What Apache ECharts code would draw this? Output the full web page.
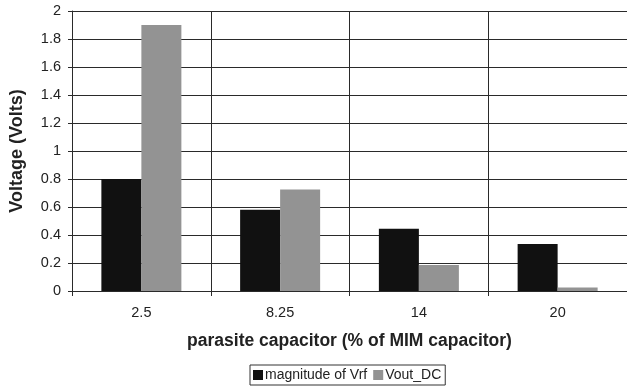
<!DOCTYPE html>
<html>
<head>
<meta charset="utf-8">
<script src="https://cdn.jsdelivr.net/npm/echarts@6/dist/echarts.min.js"></script>
<style>
  html, body { margin: 0; padding: 0; background: #fff; }
  #chart { width: 627px; height: 387px; }
</style>
</head>
<body>
<div id="chart"></div>
<script>
// 横轴类别：寄生电容占 MIM 电容百分比
let categories = ['2.5', '8.25', '14', '20'];
// 两组柱子
let vrfValues = [0.8, 0.58, 0.445, 0.335];
let voutValues = [1.9, 0.725, 0.185, 0.025];
let seriesNames = ['magnitude of Vrf', 'Vout_DC'];

let lineColor = '#2a2a2a';
let font = 'Liberation Sans, Arial, sans-serif';

let option = {
  animation: false,
  backgroundColor: '#fff',
  grid: {
    left: 68,
    right: -1,
    top: 11,
    bottom: 96,
    containLabel: false
  },
  legend: {
    data: seriesNames,
    bottom: 2,
    left: 250,
    icon: 'rect',
    itemWidth: 10,
    itemHeight: 10,
    itemGap: 6,
    padding: [3, 4, 3, 3],
    borderColor: '#333',
    borderWidth: 1,
    textStyle: { color: '#222', fontSize: 14, fontFamily: font, padding: [0, 0, 0, -3] }
  },
  xAxis: {
    type: 'category',
    data: categories,
    name: 'parasite capacitor (% of MIM capacitor)',
    nameLocation: 'middle',
    nameGap: 41,
    nameTextStyle: { color: '#222', fontSize: 17.5, fontWeight: 'bold', fontFamily: font },
    axisLine: { lineStyle: { color: lineColor, width: 1 } },
    axisTick: { show: true, length: 5, lineStyle: { color: lineColor } },
    axisLabel: { color: '#222', fontSize: 14.5, margin: 14, fontFamily: font },
    splitLine: { show: true, lineStyle: { color: lineColor, width: 1 } }
  },
  yAxis: {
    type: 'value',
    min: 0,
    max: 2,
    interval: 0.2,
    name: 'Voltage (Volts)',
    nameLocation: 'middle',
    nameGap: 46,
    nameTextStyle: { color: '#222', fontSize: 18, fontWeight: 'bold', fontFamily: font },
    axisLine: { show: true, lineStyle: { color: lineColor, width: 1 } },
    axisTick: { show: true, length: 4, lineStyle: { color: lineColor } },
    axisLabel: { color: '#222', fontSize: 14.5, margin: 11, fontFamily: font },
    splitLine: { show: true, lineStyle: { color: lineColor, width: 1 } }
  },
  series: [
    {
      name: seriesNames[0],
      type: 'bar',
      data: vrfValues,
      barWidth: 40,
      barGap: '0%',
      itemStyle: { color: '#111' }
    },
    {
      name: seriesNames[1],
      type: 'bar',
      data: voutValues,
      barWidth: 40,
      barGap: '0%',
      itemStyle: { color: '#939393' }
    }
  ]
};

let myChart = echarts.init(document.getElementById('chart'));
myChart.setOption(option);
</script>
</body>
</html>
